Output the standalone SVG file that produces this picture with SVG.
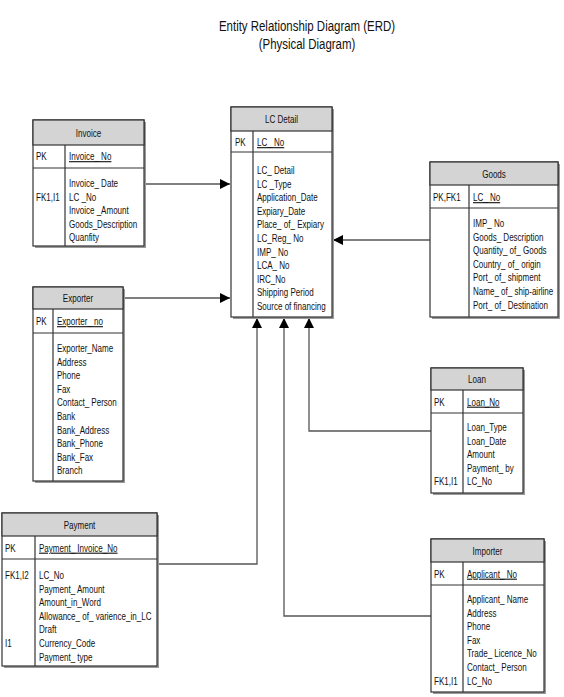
<svg xmlns="http://www.w3.org/2000/svg" width="564" height="697" viewBox="0 0 564 697">
<style>
text{font-family:"Liberation Sans",Arial,sans-serif;font-size:11px;fill:#111}
.title{font-size:14.5px;text-anchor:middle}
.hd{text-anchor:middle}
.pk{text-decoration:underline}
.shadow{fill:#9a9a9a}
.box{fill:#fff;stroke:#333;stroke-width:1.2}
.head{fill:#d4d4d4;stroke:#333;stroke-width:1.2}
.ln{stroke:#333;stroke-width:1.2;fill:none}
.conn{stroke:#555;stroke-width:1.3;fill:none}
</style>
<defs>
<marker id="arr" markerUnits="userSpaceOnUse" markerWidth="11" markerHeight="10" refX="10" refY="5" orient="auto">
<path d="M0,0 L10,5 L0,10 Z" fill="#000"/>
</marker>
</defs>
<text class="title" transform="translate(307 31) scale(.79 1)">Entity Relationship Diagram (ERD)</text>
<text class="title" transform="translate(307 49) scale(.79 1)">(Physical Diagram)</text>

<g id="connectors">
<path class="conn" d="M144,184 H230" marker-end="url(#arr)"/>
<path class="conn" d="M123,298 H230" marker-end="url(#arr)"/>
<path class="conn" d="M430,240 H333" marker-end="url(#arr)"/>
<path class="conn" d="M431,431 H309 V318" marker-end="url(#arr)"/>
<path class="conn" d="M157,564 H257 V318" marker-end="url(#arr)"/>
<path class="conn" d="M431,616 H284 V318" marker-end="url(#arr)"/>
</g>

<g id="invoice">
<rect class="shadow" x="35" y="122" width="111" height="126"/>
<rect class="box" x="33" y="120" width="111" height="126"/>
<rect class="head" x="33" y="120" width="111" height="25"/>
<line class="ln" x1="33" y1="168" x2="144" y2="168"/>
<line class="ln" x1="65" y1="145" x2="65" y2="246"/>
<text class="hd" transform="translate(88.5 136.5) scale(.73 1)">Invoice</text>
<text transform="translate(36 160) scale(.73 1)">PK</text>
<text class="pk" transform="translate(69 160) scale(.73 1)">Invoice_ No</text>
<text transform="translate(36 201) scale(.73 1)">FK1,I1</text>
<text transform="translate(69 187) scale(.73 1)">Invoice_ Date</text>
<text transform="translate(69 200.6) scale(.73 1)">LC _No</text>
<text transform="translate(69 214.2) scale(.73 1)">Invoice _Amount</text>
<text transform="translate(69 227.8) scale(.73 1)">Goods_Description</text>
<text transform="translate(69 241.4) scale(.73 1)">Quanfity</text>
</g>

<g id="lcdetail">
<rect class="shadow" x="233" y="109" width="101" height="210"/>
<rect class="box" x="231" y="107" width="101" height="210"/>
<rect class="head" x="231" y="107" width="101" height="24"/>
<line class="ln" x1="231" y1="152" x2="332" y2="152"/>
<line class="ln" x1="253" y1="131" x2="253" y2="317"/>
<text class="hd" transform="translate(281.5 123) scale(.73 1)">LC Detail</text>
<text transform="translate(235 146) scale(.73 1)">PK</text>
<text class="pk" transform="translate(257 146) scale(.73 1)">LC_ No</text>
<text transform="translate(257 174) scale(.73 1)">LC_ Detail</text>
<text transform="translate(257 187.6) scale(.73 1)">LC _Type</text>
<text transform="translate(257 201.2) scale(.73 1)">Application_Date</text>
<text transform="translate(257 214.8) scale(.73 1)">Expiary_Date</text>
<text transform="translate(257 228.4) scale(.73 1)">Place_ of_ Expiary</text>
<text transform="translate(257 242) scale(.73 1)">LC_Reg_ No</text>
<text transform="translate(257 255.6) scale(.73 1)">IMP_ No</text>
<text transform="translate(257 269.2) scale(.73 1)">LCA_ No</text>
<text transform="translate(257 282.8) scale(.73 1)">IRC_No</text>
<text transform="translate(257 296.4) scale(.73 1)">Shipping Period</text>
<text transform="translate(257 310) scale(.73 1)">Source of financing</text>
</g>

<g id="goods">
<rect class="shadow" x="432" y="164" width="128" height="155"/>
<rect class="box" x="430" y="162" width="128" height="155"/>
<rect class="head" x="430" y="162" width="128" height="23"/>
<line class="ln" x1="430" y1="208" x2="558" y2="208"/>
<line class="ln" x1="469" y1="185" x2="469" y2="317"/>
<text class="hd" transform="translate(494 177.5) scale(.73 1)">Goods</text>
<text transform="translate(433 201) scale(.73 1)">PK,FK1</text>
<text class="pk" transform="translate(473 201) scale(.73 1)">LC_ No</text>
<text transform="translate(473 227) scale(.73 1)">IMP_ No</text>
<text transform="translate(473 240.6) scale(.73 1)">Goods_ Description</text>
<text transform="translate(473 254.2) scale(.73 1)">Quantity_ of_ Goods</text>
<text transform="translate(473 267.8) scale(.73 1)">Country_ of_ origin</text>
<text transform="translate(473 281.4) scale(.73 1)">Port_ of_ shipment</text>
<text transform="translate(473 295) scale(.73 1)">Name_ of_ ship-airline</text>
<text transform="translate(473 308.6) scale(.73 1)">Port_ of_ Destination</text>
</g>

<g id="exporter">
<rect class="shadow" x="35" y="289" width="90" height="194"/>
<rect class="box" x="33" y="287" width="90" height="194"/>
<rect class="head" x="33" y="287" width="90" height="22"/>
<line class="ln" x1="33" y1="333" x2="123" y2="333"/>
<line class="ln" x1="53" y1="309" x2="53" y2="481"/>
<text class="hd" transform="translate(78 302) scale(.73 1)">Exporter</text>
<text transform="translate(36 325) scale(.73 1)">PK</text>
<text class="pk" transform="translate(57 325) scale(.73 1)">Exporter_ no</text>
<text transform="translate(57 352) scale(.73 1)">Exporter_Name</text>
<text transform="translate(57 365.6) scale(.73 1)">Address</text>
<text transform="translate(57 379.2) scale(.73 1)">Phone</text>
<text transform="translate(57 392.8) scale(.73 1)">Fax</text>
<text transform="translate(57 406.4) scale(.73 1)">Contact_ Person</text>
<text transform="translate(57 420) scale(.73 1)">Bank</text>
<text transform="translate(57 433.6) scale(.73 1)">Bank_Address</text>
<text transform="translate(57 447.2) scale(.73 1)">Bank_Phone</text>
<text transform="translate(57 460.8) scale(.73 1)">Bank_Fax</text>
<text transform="translate(57 474.4) scale(.73 1)">Branch</text>
</g>

<g id="loan">
<rect class="shadow" x="433" y="370" width="92" height="125"/>
<rect class="box" x="431" y="368" width="92" height="125"/>
<rect class="head" x="431" y="368" width="92" height="22"/>
<line class="ln" x1="431" y1="413" x2="523" y2="413"/>
<line class="ln" x1="463" y1="390" x2="463" y2="493"/>
<text class="hd" transform="translate(477 383) scale(.73 1)">Loan</text>
<text transform="translate(434 405.5) scale(.73 1)">PK</text>
<text class="pk" transform="translate(467 405.5) scale(.73 1)">Loan_No</text>
<text transform="translate(467 431) scale(.73 1)">Loan_Type</text>
<text transform="translate(467 444.6) scale(.73 1)">Loan_Date</text>
<text transform="translate(467 458.2) scale(.73 1)">Amount</text>
<text transform="translate(467 471.8) scale(.73 1)">Payment_ by</text>
<text transform="translate(434 485.4) scale(.73 1)">FK1,I1</text>
<text transform="translate(467 485.4) scale(.73 1)">LC_No</text>
</g>

<g id="payment">
<rect class="shadow" x="4" y="515" width="155" height="153"/>
<rect class="box" x="2" y="513" width="155" height="153"/>
<rect class="head" x="2" y="513" width="155" height="23"/>
<line class="ln" x1="2" y1="559" x2="157" y2="559"/>
<line class="ln" x1="35" y1="536" x2="35" y2="666"/>
<text class="hd" transform="translate(79.5 528.5) scale(.73 1)">Payment</text>
<text transform="translate(5 551.5) scale(.73 1)">PK</text>
<text class="pk" transform="translate(39 551.5) scale(.73 1)">Payment_ Invoice_No</text>
<text transform="translate(5 579) scale(.73 1)">FK1,I2</text>
<text transform="translate(39 579) scale(.73 1)">LC_No</text>
<text transform="translate(39 592.6) scale(.73 1)">Payment_ Amount</text>
<text transform="translate(39 606.2) scale(.73 1)">Amount_in_Word</text>
<text transform="translate(39 619.8) scale(.73 1)">Allowance_ of_ varience_in_LC</text>
<text transform="translate(39 633.4) scale(.73 1)">Draft</text>
<text transform="translate(5 647) scale(.73 1)">I1</text>
<text transform="translate(39 647) scale(.73 1)">Currency_Code</text>
<text transform="translate(39 660.6) scale(.73 1)">Payment_ type</text>
</g>

<g id="importer">
<rect class="shadow" x="433" y="541" width="113" height="153"/>
<rect class="box" x="431" y="539" width="113" height="153"/>
<rect class="head" x="431" y="539" width="113" height="23"/>
<line class="ln" x1="431" y1="585" x2="544" y2="585"/>
<line class="ln" x1="463" y1="562" x2="463" y2="692"/>
<text class="hd" transform="translate(487.5 554.5) scale(.73 1)">Importer</text>
<text transform="translate(434 577.5) scale(.73 1)">PK</text>
<text class="pk" transform="translate(467 577.5) scale(.73 1)">Applicant_ No</text>
<text transform="translate(467 603) scale(.73 1)">Applicant_ Name</text>
<text transform="translate(467 616.6) scale(.73 1)">Address</text>
<text transform="translate(467 630.2) scale(.73 1)">Phone</text>
<text transform="translate(467 643.8) scale(.73 1)">Fax</text>
<text transform="translate(467 657.4) scale(.73 1)">Trade_ Licence_No</text>
<text transform="translate(467 671) scale(.73 1)">Contact_ Person</text>
<text transform="translate(434 684.6) scale(.73 1)">FK1,I1</text>
<text transform="translate(467 684.6) scale(.73 1)">LC_No</text>
</g>
</svg>
